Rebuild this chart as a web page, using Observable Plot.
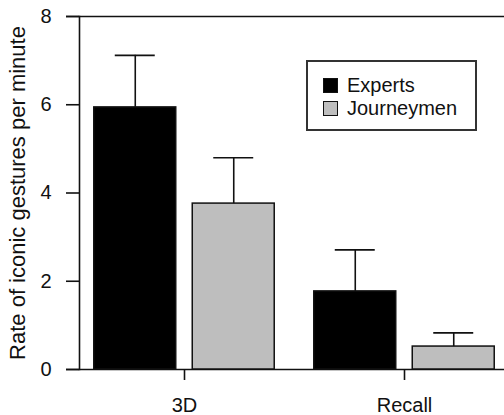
<!DOCTYPE html>
<html>
<head>
<meta charset="utf-8">
<script src="https://cdn.jsdelivr.net/npm/d3@7"></script>
<script src="https://cdn.jsdelivr.net/npm/@observablehq/plot@0.6"></script>
<style>
  html, body { margin: 0; padding: 0; background: #fff; overflow: hidden; }
  #wrap { position: relative; width: 504px; height: 415px; font-family: "Liberation Sans", Arial, Helvetica, sans-serif; }
  #legend { position: absolute; left: 306px; top: 60px; width: 171px; height: 71px; box-sizing: border-box;
            border: 2px solid #333; background: #fff; padding: 11.5px 0 0 15px; }
  .row { display: flex; align-items: center; height: 23px; font-size: 20px; line-height: 23px; color: #111; white-space: nowrap; }
  .sw { width: 15px; height: 15px; box-sizing: border-box; border: 1.5px solid #111; margin-right: 9px; flex: none; }
</style>
</head>
<body>
<div id="wrap"></div>
<script>
const groups = ["3D", "Recall"];
const series = ["Experts", "Journeymen"];
const expertsMean = [5.94, 1.77];
const journeymenMean = [3.76, 0.52];
const expertsUpper = [7.12, 2.71];
const journeymenUpper = [4.80, 0.83];
const yTicks = [0, 2, 4, 6, 8];
const colors = ["#000000", "#bebebe"];
const yLabel = "Rate of iconic gestures per minute";

const rows = groups.flatMap((g, i) => [
  {group: g, series: series[0], mean: expertsMean[i], upper: expertsUpper[i]},
  {group: g, series: series[1], mean: journeymenMean[i], upper: journeymenUpper[i]}
]);

// horizontal frame lines (bottom and top of the value range), one run per facet
const frameLines = groups.flatMap((g) => [0, 8].map((v) => ({group: g, v})));

const chart = Plot.plot({
  width: 504,
  height: 415,
  marginTop: 16,
  marginBottom: 46,
  marginLeft: 79,
  marginRight: -5,
  style: {fontFamily: "'Liberation Sans', Arial, Helvetica, sans-serif", fontSize: "20px", color: "#111", background: "white", overflow: "hidden"},
  fx: {domain: groups, paddingInner: 10 / 220, paddingOuter: 0, round: false, label: null},
  x: {domain: series, paddingInner: 0.1675, paddingOuter: 0.15, round: false, axis: null},
  y: {domain: [0, 8], label: null},
  color: {domain: series, range: colors},
  marks: [
    Plot.ruleY(frameLines.filter((d) => d.group === groups[0]), {fx: "group", y: "v", insetLeft: -13, insetRight: -10, stroke: "#111", strokeWidth: 1.6}),
    Plot.ruleY(frameLines.filter((d) => d.group === groups[1]), {fx: "group", y: "v", insetLeft: 0, insetRight: -10, stroke: "#111", strokeWidth: 1.6}),
    Plot.frame({anchor: "left", facetAnchor: "left", stroke: "#111", strokeWidth: 1.6}),
    Plot.axisY({ticks: yTicks, tickSize: 13, tickPadding: 15, label: null, fontSize: 20, stroke: "#111", strokeWidth: 1.6}),
    Plot.axisFx({anchor: "bottom", tickSize: 11, tickPadding: 17, label: null, fontSize: 20, stroke: "#111", strokeWidth: 1.6}),
    Plot.barY(rows, {fx: "group", x: "series", y: "mean", fill: "series", stroke: "#111", strokeWidth: 1.5}),
    Plot.ruleX(rows, {fx: "group", x: "series", y1: "mean", y2: "upper", stroke: "#111", strokeWidth: 1.6}),
    Plot.tickY(rows, {fx: "group", x: "series", y: "upper", insetLeft: 21, insetRight: 21, stroke: "#111", strokeWidth: 1.6}),
    Plot.text([yLabel], {text: d => d, frameAnchor: "left", rotate: -90, dx: -62, textAnchor: "middle", lineAnchor: "middle", facetAnchor: "left", fontSize: 22, fill: "#111"})
  ]
});

const wrap = document.getElementById("wrap");
wrap.appendChild(chart);

const legend = document.createElement("div");
legend.id = "legend";
series.forEach((s, i) => {
  const row = document.createElement("div");
  row.className = "row";
  const sw = document.createElement("span");
  sw.className = "sw";
  sw.style.background = colors[i];
  const label = document.createElement("span");
  label.textContent = s;
  row.appendChild(sw);
  row.appendChild(label);
  legend.appendChild(row);
});
wrap.appendChild(legend);
</script>
</body>
</html>
